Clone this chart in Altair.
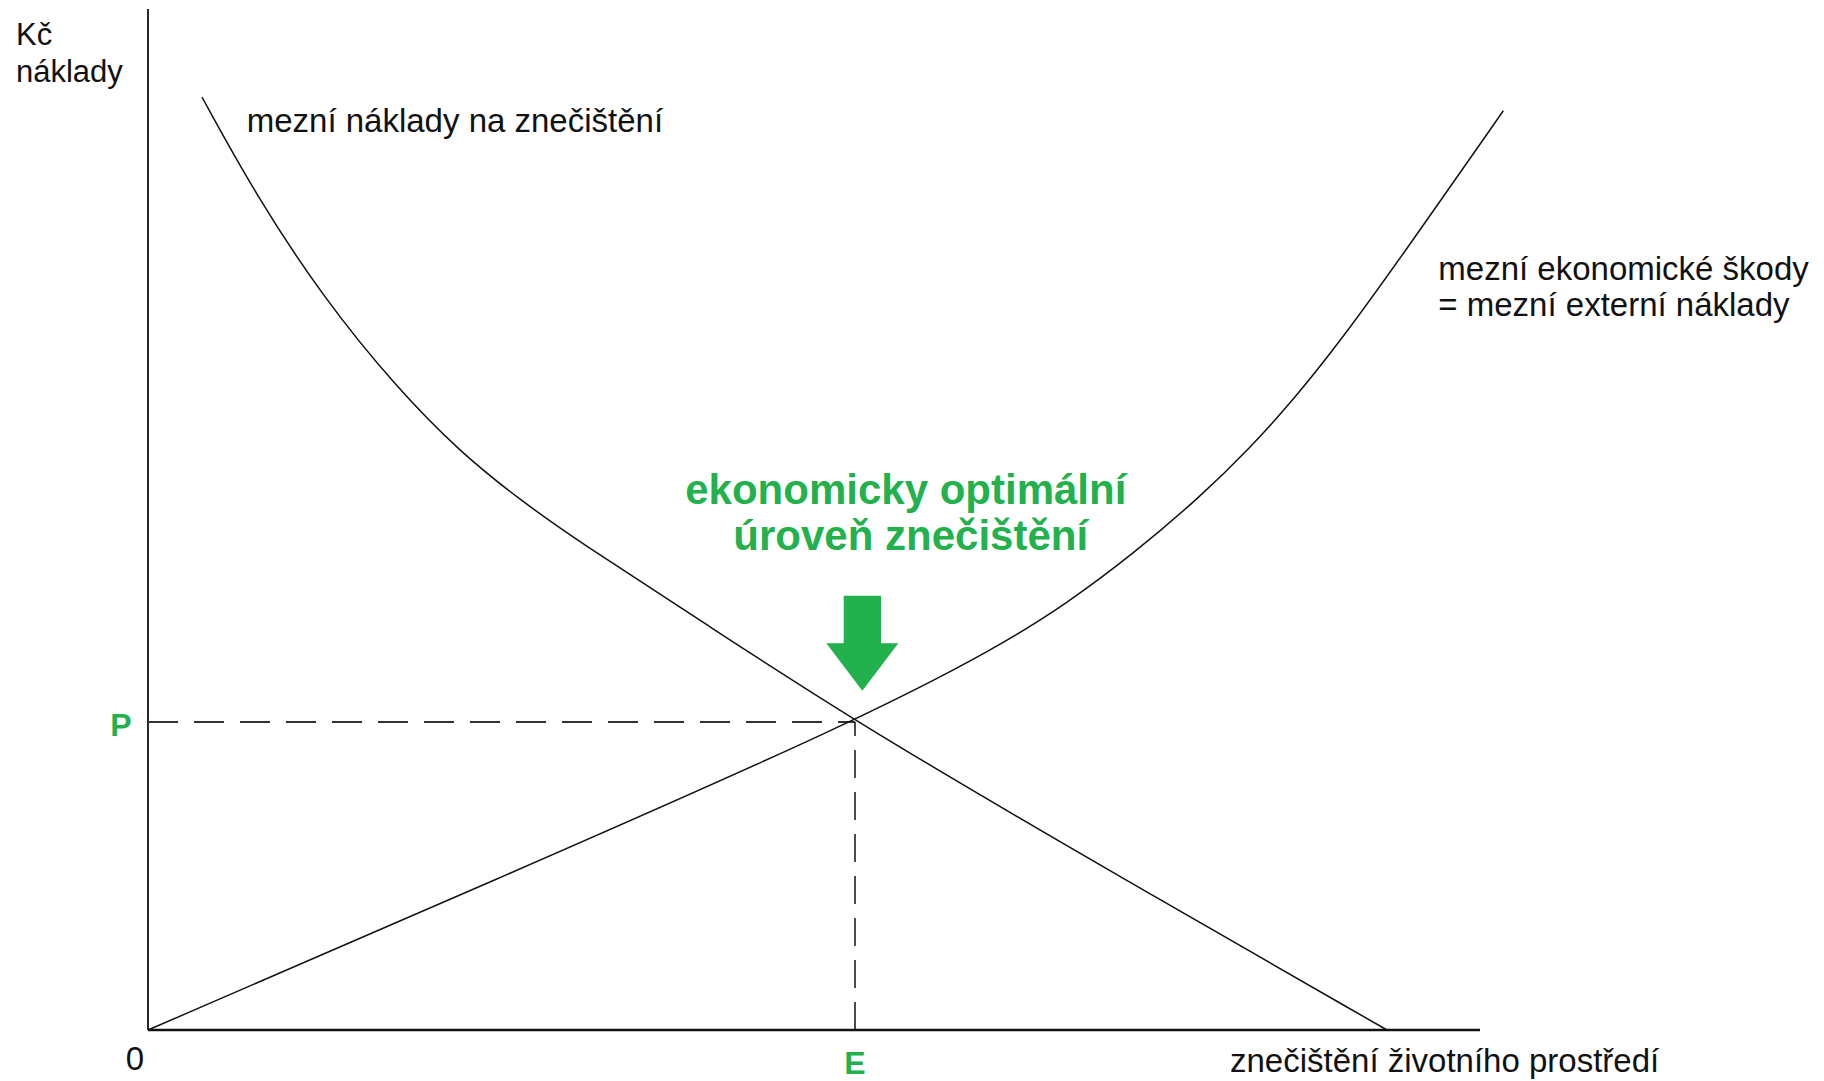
import altair as alt
import pandas as pd

# ---------------- data (x: pollution level, y: Kč) ----------------
# marginal abatement cost curve ("mezní náklady na znečištění")
mc_x = [4.05, 8.03, 13.21, 18.69, 23.42, 27.93, 32.49, 41.44, 53.08, 72.97, 93.02]
mc_y = [91.38, 81.92, 71.61, 62.88, 56.61, 51.91, 47.70, 40.16, 30.17, 14.99, 0.0]
# marginal damage curve ("mezní ekonomické škody")
md_x = [0.0, 26.95, 53.08, 63.96, 68.97, 73.97, 78.98, 82.73, 85.98, 89.49, 93.99, 101.75]
md_y = [0.0, 15.18, 30.17, 37.61, 41.77, 46.64, 52.20, 57.00, 61.70, 67.42, 75.53, 90.03]

E_X = 53.08      # optimal pollution level
P_Y = 30.17      # price at optimum
X_MAX = 100.0
Y_MAX = 100.0

# arrow marker position (above the optimum)
arrow_x = [53.63]
arrow_y = [37.88]

# black regular labels (left aligned)
lab_text = ["mezní náklady na znečištění", "mezní ekonomické škody",
            "= mezní externí náklady", "znečištění životního prostředí"]
lab_x = [7.41, 96.87, 96.87, 81.23]
lab_y = [87.98, 73.46, 69.93, -4.11]

# y-axis title lines
ytitle_text = ["Kč", "náklady"]
ytitle_x = [-9.91, -9.91]
ytitle_y = [96.47, 92.85]

# origin tick label
zero_text = ["0"]
zero_x = [-0.98]
zero_y = [-3.92]

# green tick labels
green_text = ["P", "E"]
green_x = [-2.03, E_X]
green_y = [28.8, -4.31]

# green headline
head_text = ["ekonomicky optimální", "úroveň znečištění"]
head_x = [56.89, 57.26]
head_y = [51.52, 47.01]

GREEN = "#22b14c"
FONT = "Liberation Sans"

# ---------------- tables ----------------
curves = pd.DataFrame({
    "x": mc_x + md_x,
    "y": mc_y + md_y,
    "series": ["mc"] * len(mc_x) + ["md"] * len(md_x),
    "ord": list(range(len(mc_x))) + list(range(len(md_x))),
})
axes_df = pd.DataFrame({"x": [0, 0], "x2": [0, X_MAX], "y": [0, 0], "y2": [Y_MAX, 0], "w": [1.8, 2.6]})
hdash = pd.DataFrame({"x": [0], "x2": [E_X], "y": [P_Y], "y2": [P_Y]})
vdash = pd.DataFrame({"x": [E_X], "x2": [E_X], "y": [0], "y2": [P_Y]})
arrow_df = pd.DataFrame({"x": arrow_x, "y": arrow_y})
lab_df = pd.DataFrame({"x": lab_x, "y": lab_y, "t": lab_text})
yt_df = pd.DataFrame({"x": ytitle_x, "y": ytitle_y, "t": ytitle_text})
zero_df = pd.DataFrame({"x": zero_x, "y": zero_y, "t": zero_text})
green_df = pd.DataFrame({"x": green_x, "y": green_y, "t": green_text})
head_df = pd.DataFrame({"x": head_x, "y": head_y, "t": head_text})

xs = alt.Scale(domain=[0, X_MAX], nice=False, zero=False)
ys = alt.Scale(domain=[0, Y_MAX], nice=False, zero=False)
X = lambda f="x": alt.X(f"{f}:Q", scale=xs, axis=None)
Y = lambda f="y": alt.Y(f"{f}:Q", scale=ys, axis=None)

lines = alt.Chart(curves).mark_line(interpolate="basis", color="#111111", strokeWidth=1.5).encode(
    x=X(), y=Y(), detail="series:N", order="ord:Q")

axes = alt.Chart(axes_df).mark_rule(color="#111111").encode(
    x=X(), x2="x2:Q", y=Y(), y2="y2:Q", strokeWidth=alt.StrokeWidth("w:Q", scale=None))

hd = alt.Chart(hdash).mark_rule(color="#333333", strokeWidth=2, strokeDash=[30, 16]).encode(
    x=X(), x2="x2:Q", y=Y(), y2="y2:Q")
vd = alt.Chart(vdash).mark_rule(color="#111111", strokeWidth=1.5, strokeDash=[28, 14]).encode(
    x=X(), x2="x2:Q", y=Y(), y2="y2:Q")

ARROW = "M-0.393,-1L0.393,-1L0.393,0L0.758,0L0,1L-0.758,0L-0.393,0Z"
arrow = alt.Chart(arrow_df).mark_point(shape=ARROW, size=9025, filled=True, color=GREEN,
                                       opacity=1, strokeWidth=0).encode(x=X(), y=Y())

def txt(df, size, weight="normal", color="#111111", align="left"):
    return alt.Chart(df).mark_text(font=FONT, fontSize=size, fontWeight=weight, color=color,
                                   align=align, baseline="alphabetic").encode(
        x=X(), y=Y(), text="t:N")

labels = txt(lab_df, 33)
ytitle = txt(yt_df, 31)
zero = txt(zero_df, 33, align="center")
green = txt(green_df, 32, weight="bold", color=GREEN, align="center")
head = txt(head_df, 42, weight="bold", color=GREEN, align="center")

chart = alt.layer(axes, hd, vd, lines, arrow, labels, ytitle, zero, green, head).properties(
    width=1332, height=1021,
    padding={"left": 140, "top": 1, "right": 336, "bottom": 51},
    autosize=alt.AutoSizeParams(type="none"),
    background="white",
).configure_view(stroke=None)

chart.save("out.html", embed_options={"renderer": "svg", "actions": False})
